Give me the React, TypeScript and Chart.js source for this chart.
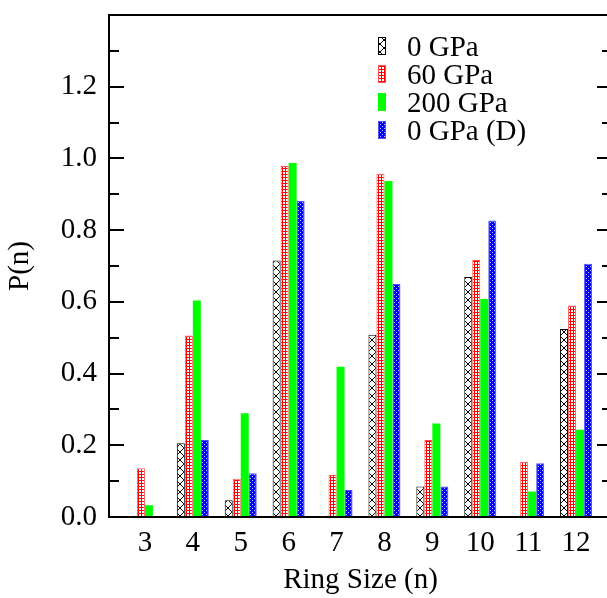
import React, { useEffect, useRef } from 'react';
import { Chart, registerables } from 'chart.js';

Chart.register(...registerables);

const ringSizes = [3, 4, 5, 6, 7, 8, 9, 10, 11, 12];
const seriesLabels = ['0 GPa', '60 GPa', '200 GPa', '0 GPa (D)'];
const p0GPa = [0, 0.206, 0.047, 0.715, 0, 0.508, 0.085, 0.669, 0, 0.524];
const p60GPa = [0.136, 0.506, 0.107, 0.979, 0.117, 0.957, 0.215, 0.717, 0.154, 0.59];
const p200GPa = [0.033, 0.604, 0.289, 0.987, 0.419, 0.937, 0.261, 0.608, 0.071, 0.243];
const p0GPaD = [0, 0.215, 0.122, 0.881, 0.075, 0.65, 0.085, 0.827, 0.15, 0.706];
const yTickValues = [0, 0.2, 0.4, 0.6, 0.8, 1.0, 1.2];
const yMinorStep = 0.1;

const FONT = '"Liberation Serif", "DejaVu Serif", serif';
const FONT_SIZE = 29;

function tile(w: number, h: number, draw: (c: CanvasRenderingContext2D) => void) {
  const cv = document.createElement('canvas');
  cv.width = w;
  cv.height = h;
  const c = cv.getContext('2d')!;
  draw(c);
  return cv;
}

export default function App() {
  const ref = useRef<HTMLCanvasElement | null>(null);

  useEffect(() => {
    const canvas = ref.current!;
    const ctx = canvas.getContext('2d')!;

    const blackTile = tile(8, 8, (c) => {
      c.fillStyle = '#ffffff';
      c.fillRect(0, 0, 8, 8);
      c.fillStyle = '#000000';
      for (let i = 0; i < 8; i++) {
        c.fillRect(i, i, 1, 1);
        c.fillRect(7 - i, i, 1, 1);
      }
    });
    const redTile = tile(3, 3, (c) => {
      c.fillStyle = '#ffffff';
      c.fillRect(0, 0, 3, 3);
      c.fillStyle = '#ff0000';
      c.fillRect(0, 0, 3, 1);
      c.fillRect(0, 0, 1, 3);
    });
    const blueTile = tile(4, 4, (c) => {
      c.fillStyle = '#0000ff';
      c.fillRect(0, 0, 4, 4);
      c.fillStyle = '#c8c8ff';
      c.fillRect(0, 0, 1, 1);
      c.fillRect(2, 2, 1, 1);
    });

    const fills: (string | CanvasPattern)[] = [
      ctx.createPattern(blackTile, 'repeat')!,
      ctx.createPattern(redTile, 'repeat')!,
      '#00ff00',
      ctx.createPattern(blueTile, 'repeat')!,
    ];
    const borders = ['#000000', '#ff5050', '#00ff00', '#5050ff'];
    const borderWidths = [1, 1, 0, 1];
    const series = [p0GPa, p60GPa, p200GPa, p0GPaD];

    const frame = {
      id: 'frame',
      afterDatasetsDraw(chart: any) {
        const { ctx: c, chartArea: a, scales } = chart;
        const y = scales.y;
        c.save();
        c.strokeStyle = '#000';
        c.lineWidth = 2;
        c.beginPath();
        c.moveTo(a.right, a.top);
        c.lineTo(a.left, a.top);
        c.lineTo(a.left, a.bottom);
        c.lineTo(a.right, a.bottom);
        c.stroke();
        const max = y.max;
        for (let k = 0; k * yMinorStep <= max + 1e-9; k++) {
          const v = k * yMinorStep;
          const py = Math.round(y.getPixelForValue(v));
          const major = k % 2 === 0;
          const len = major ? 15 : 10;
          c.lineWidth = 2;
          c.beginPath();
          c.moveTo(a.left, py);
          c.lineTo(a.left + len, py);
          c.moveTo(a.right, py);
          c.lineTo(a.right - len, py);
          c.stroke();
        }
        c.font = `${FONT_SIZE}px ${FONT}`;
        c.textBaseline = 'alphabetic';
        c.textAlign = 'left';
        chart.data.datasets.forEach((ds: any, i: number) => {
          const bx = 378;
          const by = 37 + 28 * i;
          c.fillStyle = ds.backgroundColor;
          c.fillRect(bx, by, 8, 18);
          if (ds.borderWidth > 0) {
            c.lineWidth = 1;
            c.strokeStyle = ds.borderColor;
            c.strokeRect(bx + 0.5, by + 0.5, 7, 17);
          }
          c.fillStyle = '#000';
          c.fillText(ds.label, 407, 56 + 28 * i);
        });
        c.restore();
      },
    };

    const chart = new Chart(canvas, {
      type: 'bar',
      data: {
        datasets: series.map((vals, i) => ({
          label: seriesLabels[i],
          data: ringSizes.map((n, j) => ({ x: n, y: vals[j] })),
          backgroundColor: fills[i] as any,
          borderColor: borders[i],
          borderWidth: borderWidths[i],
          borderSkipped: false,
          categoryPercentage: 0.668,
          barPercentage: 1,
        })),
      },
      options: {
        responsive: false,
        animation: false,
        layout: { padding: { top: 15, right: 13, left: 0, bottom: 0 } },
        plugins: { legend: { display: false }, tooltip: { enabled: false } },
        scales: {
          x: {
            type: 'linear',
            min: 2.25,
            max: 12.75,
            offset: false,
            grid: { display: false, drawTicks: false, offset: false },
            border: { display: false },
            afterBuildTicks: (s: any) => {
              s.ticks = ringSizes.map((v) => ({ value: v }));
            },
            afterFit: (s: any) => {
              s.height = 81;
              s.paddingLeft = 0;
              s.paddingRight = 0;
            },
            ticks: {
              autoSkip: false,
              maxRotation: 0,
              padding: 9,
              color: '#000',
              font: { family: FONT, size: FONT_SIZE },
              callback: (v: any) => String(v),
            },
            title: {
              display: true,
              text: 'Ring Size (n)',
              color: '#000',
              font: { family: FONT, size: FONT_SIZE },
              padding: { top: 0, bottom: 0 },
            },
          },
          y: {
            type: 'linear',
            min: 0,
            max: 1.4,
            grid: { display: false, drawTicks: false },
            border: { display: false },
            afterBuildTicks: (s: any) => {
              s.ticks = yTickValues.map((v) => ({ value: v }));
            },
            afterFit: (s: any) => {
              s.width = 109;
              s.paddingTop = 0;
              s.paddingBottom = 0;
            },
            ticks: {
              padding: 12,
              color: '#000',
              font: { family: FONT, size: FONT_SIZE },
              callback: (v: any) => Number(v).toFixed(1),
            },
            title: {
              display: true,
              text: 'P(n)',
              color: '#000',
              font: { family: FONT, size: FONT_SIZE },
              padding: { top: 3, bottom: 0 },
            },
          },
        },
      },
      plugins: [frame],
    });
    return () => chart.destroy();
  }, []);

  return (
    <div
      style={{
        position: 'fixed',
        left: 0,
        top: 0,
        width: 607,
        height: 598,
        overflow: 'hidden',
        background: '#fff',
      }}
    >
      <canvas ref={ref} width={625} height={598} style={{ width: 625, height: 598, display: 'block' }} />
    </div>
  );
}
